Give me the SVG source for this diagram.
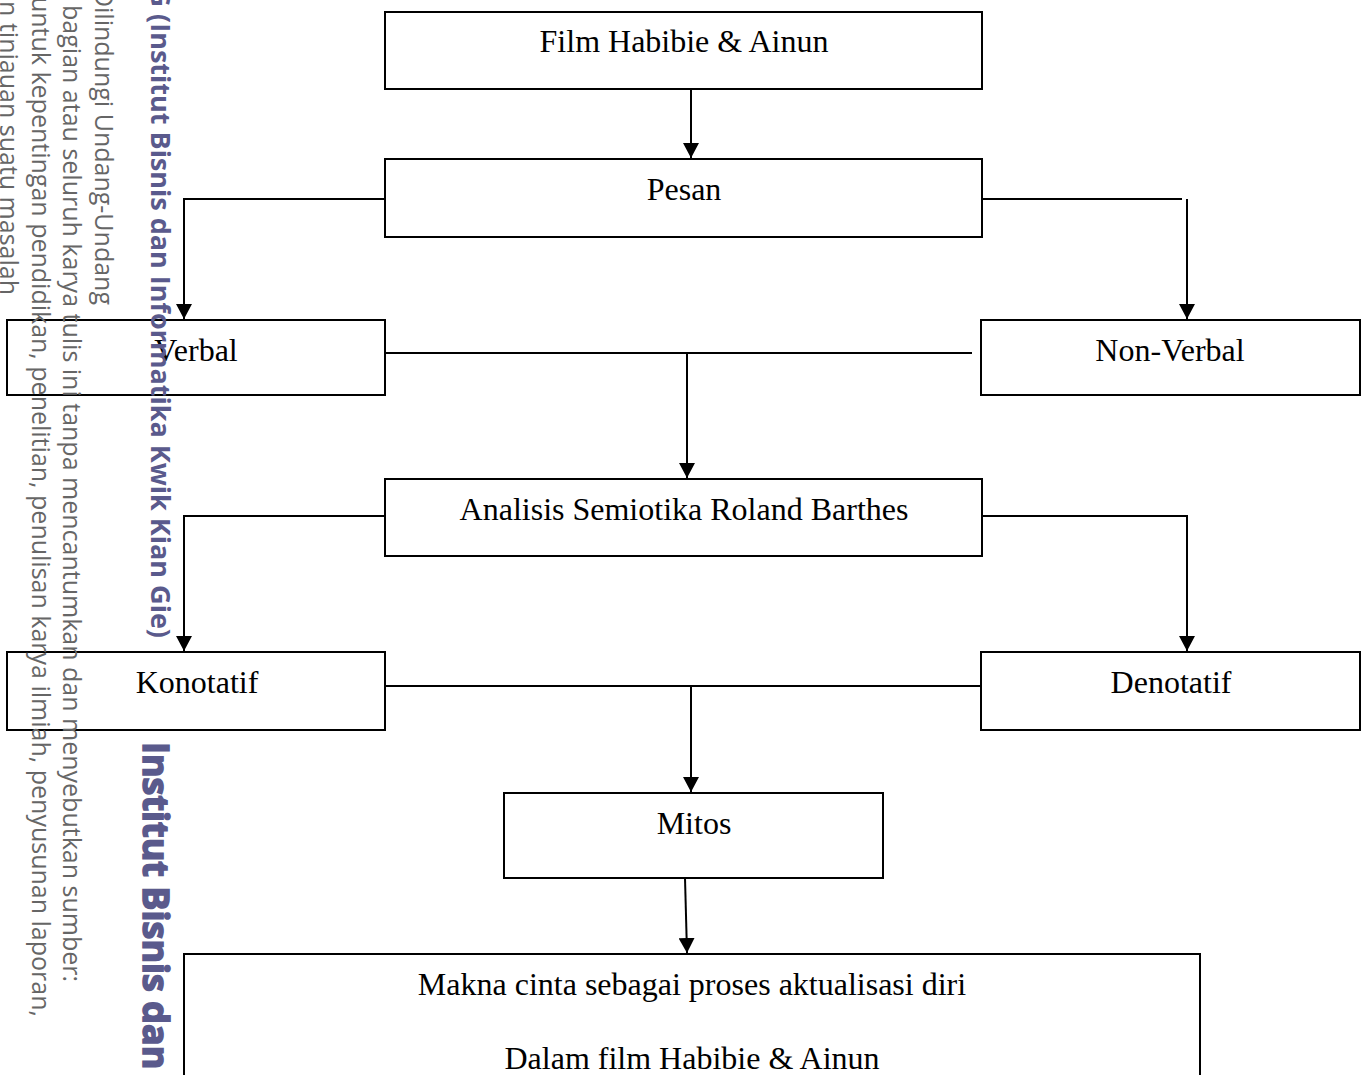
<svg xmlns="http://www.w3.org/2000/svg" width="1370" height="1075" viewBox="0 0 1370 1075">
<style>
.box{fill:#fff;stroke:#000;stroke-width:2}
.lbl{font-family:"Liberation Serif","Times New Roman",serif;font-size:32px;fill:#000;text-anchor:middle}
.con{fill:none;stroke:#000;stroke-width:2}
.wm{font-family:"Open Sans","Noto Sans",sans-serif;font-size:25px;fill:#666}
.wmp{font-family:"Open Sans","Noto Sans",sans-serif;font-weight:bold;fill:#5a5a8c}
</style>
<defs>
<marker id="arr" viewBox="0 0 15 16" refX="15" refY="8" markerWidth="15" markerHeight="16" markerUnits="userSpaceOnUse" orient="auto">
<path d="M0,0 L15,8 L0,16 z" fill="#000"/>
</marker>
</defs>
<rect width="1370" height="1075" fill="#fff"/>
<g id="connectors">
<path class="con" d="M691,89 V158" marker-end="url(#arr)"/>
<path class="con" d="M385,199 H184 V319" marker-end="url(#arr)"/>
<path class="con" d="M982,199 H1182"/>
<path class="con" d="M1187,199 V319" marker-end="url(#arr)"/>
<path class="con" d="M385,353 H972"/>
<path class="con" d="M687,353 V478" marker-end="url(#arr)"/>
<path class="con" d="M385,516 H184 V651" marker-end="url(#arr)"/>
<path class="con" d="M982,516 H1187 V651" marker-end="url(#arr)"/>
<path class="con" d="M385,686 H981"/>
<path class="con" d="M691,686 V792" marker-end="url(#arr)"/>
<path class="con" d="M685,878 L687,953" marker-end="url(#arr)"/>
</g>
<g id="film"><rect class="box" x="385" y="12" width="597" height="77"/><text class="lbl" x="684" y="52">Film Habibie &amp; Ainun</text></g>
<g id="pesan"><rect class="box" x="385" y="159" width="597" height="78"/><text class="lbl" x="684" y="200">Pesan</text></g>
<g id="verbal"><rect class="box" x="7" y="320" width="378" height="75"/><text class="lbl" x="196" y="361">Verbal</text></g>
<g id="nonverbal"><rect class="box" x="981" y="320" width="379" height="75"/><text class="lbl" x="1170" y="361">Non-Verbal</text></g>
<g id="analisis"><rect class="box" x="385" y="479" width="597" height="77"/><text class="lbl" x="684" y="520">Analisis Semiotika Roland Barthes</text></g>
<g id="konotatif"><rect class="box" x="7" y="652" width="378" height="78"/><text class="lbl" x="197" y="693">Konotatif</text></g>
<g id="denotatif"><rect class="box" x="981" y="652" width="379" height="78"/><text class="lbl" x="1171" y="693">Denotatif</text></g>
<g id="mitos"><rect class="box" x="504" y="793" width="379" height="85"/><text class="lbl" x="694" y="834">Mitos</text></g>
<g id="makna"><rect class="box" x="184" y="954" width="1016" height="160"/><text class="lbl" x="692" y="995">Makna cinta sebagai proses aktualisasi diri</text><text class="lbl" x="692" y="1069">Dalam film Habibie &amp; Ainun</text></g>
<g id="watermark">
<text class="wm" text-anchor="end" transform="translate(95,305) rotate(90)">Dilindungi Undang-Undang</text>
<text class="wm" text-anchor="end" transform="translate(63,982) rotate(90)">bagian atau seluruh karya tulis ini tanpa mencantumkan dan menyebutkan sumber:</text>
<text class="wm" text-anchor="end" transform="translate(32,1017) rotate(90)">untuk kepentingan pendidikan, penelitian, penulisan karya ilmiah, penyusunan laporan,</text>
<text class="wm" text-anchor="end" transform="translate(0,295) rotate(90)">n tinjauan suatu masalah</text>
<text class="wmp" font-size="27" text-anchor="end" transform="translate(151,638) rotate(90)">G (Institut Bisnis dan Informatika Kwik Kian Gie)</text>
<text class="wmp" font-size="36" font-weight="800" stroke="#5a5a8c" stroke-width="1.6" transform="translate(143,742) rotate(90)">Institut Bisnis dan</text>
</g>
</svg>
